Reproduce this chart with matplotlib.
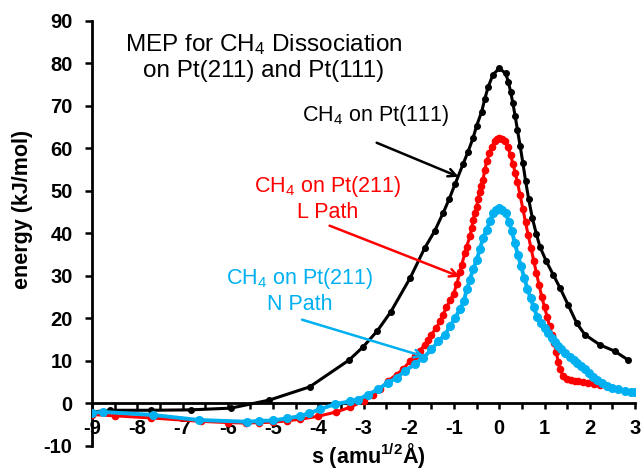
import matplotlib
matplotlib.use("Agg")
import matplotlib.pyplot as plt
from matplotlib.ticker import MultipleLocator

plt.rcParams['font.family'] = ['Liberation Sans', 'DejaVu Sans']
plt.rcParams['mathtext.fontset'] = 'custom'
plt.rcParams['mathtext.rm'] = 'Liberation Sans'
plt.rcParams['mathtext.it'] = 'Liberation Sans:italic'
plt.rcParams['mathtext.bf'] = 'Liberation Sans:bold'
plt.rcParams['axes.unicode_minus'] = False

# CH4 on Pt(111)
s_111 = [-9.0, -8.6, -7.69, -6.82, -5.93, -5.08, -4.19, -3.32, -3.01, -2.70, -2.40,
         -1.97, -1.65, -1.43, -1.24, -1.11, -0.98, -0.80, -0.69, -0.58, -0.50, -0.39,
         -0.32, -0.25, -0.14, 0.0, 0.14, 0.20, 0.25, 0.30, 0.35, 0.40, 0.46, 0.52,
         0.58, 0.65, 0.73, 0.82, 0.90, 1.04, 1.19, 1.34, 1.52, 1.71, 1.89, 2.22,
         2.55, 2.85]
e_111 = [-2.0, -1.6, -1.6, -1.5, -1.1, 0.8, 3.9, 10.2, 13.3, 17.0, 21.5,
         29.5, 36.5, 40.5, 44.8, 48.0, 51.5, 56.3, 59.2, 62.4, 65.3, 68.6,
         71.6, 74.3, 77.3, 78.8, 77.6, 75.6, 73.3, 70.6, 67.6, 64.4, 60.6, 56.6,
         52.4, 48.0, 43.6, 39.8, 36.8, 33.4, 30.3, 27.2, 23.2, 18.9, 16.2, 13.8,
         12.3, 10.2]

# CH4 on Pt(211), L path
s_211L = [-9.0, -8.5, -7.7, -6.6, -6.0, -5.6, -5.3, -5.0, -4.7, -4.4, -4.0, -3.6,
          -3.3, -3.0, -2.79, -2.64, -2.46, -2.27, -2.13, -1.98, -1.87, -1.76, -1.65,
          -1.57, -1.50, -1.39, -1.31, -1.24, -1.17, -1.08, -1.01, -0.94, -0.87,
          -0.83, -0.76, -0.72, -0.65, -0.61, -0.58, -0.54, -0.50, -0.47, -0.43,
          -0.40, -0.36, -0.32, -0.28, -0.22, -0.17, -0.10, -0.05, 0.0, 0.05, 0.12,
          0.19, 0.25, 0.30, 0.35, 0.40, 0.46, 0.52, 0.58, 0.64, 0.70, 0.76, 0.82,
          0.88, 0.94, 1.00, 1.06, 1.11, 1.16, 1.21, 1.26, 1.30, 1.34, 1.41, 1.49,
          1.58, 1.67, 1.75, 1.84, 1.97, 2.10, 2.23]
e_211L = [-2.6, -2.9, -3.4, -4.2, -4.5, -4.6, -4.5, -4.4, -4.1, -3.7, -3.0, -2.0,
          -0.9, 0.6, 1.9, 3.3, 5.3, 6.8, 8.0, 9.9, 11.1, 12.3, 13.8,
          15.0, 16.2, 17.8, 19.3, 20.9, 22.6, 24.3, 25.8, 28.0, 31.0,
          32.6, 35.4, 36.9, 39.3, 41.2, 43.2, 44.8, 46.3, 48.1, 49.8,
          51.2, 52.6, 54.9, 56.9, 58.8, 60.4, 61.6, 62.2, 62.4, 62.2, 61.6,
          60.2, 58.3, 56.4, 54.3, 52.0, 49.0, 45.8, 42.6, 39.5, 36.6, 33.6, 30.7,
          27.8, 25.0, 22.6, 20.3, 18.2, 16.2, 14.3, 12.0, 9.8, 8.0, 6.5, 5.7,
          5.4, 5.3, 5.2, 5.0, 4.8, 4.5, 4.3]

# CH4 on Pt(211), N path
s_211N = [-9.0, -8.76, -7.66, -6.63, -5.57, -5.30, -5.00, -4.69, -4.41, -4.20, -3.97,
          -3.64, -3.30, -3.12, -2.90, -2.68, -2.46, -2.27, -2.09, -1.87, -1.68,
          -1.50, -1.35, -1.20, -1.09, -0.98, -0.87, -0.78, -0.72, -0.65, -0.58,
          -0.50, -0.43, -0.36, -0.28, -0.21, -0.14, -0.07, 0.0, 0.07, 0.14, 0.21,
          0.28, 0.34, 0.41, 0.48, 0.55, 0.62, 0.69, 0.76, 0.84, 0.92, 1.00, 1.08,
          1.16, 1.23, 1.30, 1.37, 1.46, 1.56, 1.64, 1.71, 1.80, 1.89, 1.98, 2.07,
          2.17, 2.27, 2.38, 2.49, 2.63, 2.78, 2.90, 3.0]
e_211N = [-2.2, -2.0, -2.7, -3.9, -4.3, -4.1, -4.0, -3.5, -3.0, -2.3, -1.4,
          -0.2, 0.5, 0.9, 2.1, 3.3, 4.9, 6.0, 7.6, 9.2, 10.7,
          12.7, 14.6, 16.2, 18.1, 20.1, 22.1, 24.2, 26.8, 29.1, 31.5,
          33.8, 36.2, 38.9, 40.8, 42.8, 44.8, 45.6, 45.9, 45.6, 44.8, 42.7,
          40.5, 37.8, 35.0, 32.3, 29.6, 27.0, 24.8, 22.6, 20.4, 18.9, 17.7, 16.6,
          15.5, 14.5, 13.6, 12.7, 11.8, 11.0, 10.2, 9.5, 8.7, 8.0, 7.1, 6.3,
          5.5, 4.8, 4.2, 3.7, 3.3, 3.0, 2.8, 2.6]

cor_azul = '#00B0F0'
cor_vermelha = '#FF0000'

fig = plt.figure(figsize=(6.44, 4.74), dpi=100)
ax = fig.add_axes([0.1429, 0.0591, 0.8432, 0.8973])

ax.plot(s_111, e_111, '-o', color='black', lw=2.2, ms=4, zorder=3)
ax.plot(s_211L, e_211L, '-o', color=cor_vermelha, lw=2.2, ms=4.5, zorder=4)
ax.plot(s_211N, e_211N, '-o', color=cor_azul, lw=2.8, ms=5.5, zorder=5)

ax.set_xlim(-9, 3)
ax.set_ylim(-10, 90)

ax.spines['top'].set_visible(False)
ax.spines['right'].set_visible(False)
ax.spines['bottom'].set_position(('data', 0))
ax.spines['bottom'].set_linewidth(2)
ax.spines['left'].set_linewidth(2)

ax.xaxis.set_major_locator(MultipleLocator(1))
ax.xaxis.set_minor_locator(MultipleLocator(0.5))
ax.yaxis.set_major_locator(MultipleLocator(10))
ax.tick_params(axis='x', which='both', direction='out', length=4.5, width=1.8, pad=7,
               labelsize=14.5)
ax.tick_params(axis='y', direction='out', length=5, width=1.8, pad=9, labelsize=14.5)
for lbl in ax.get_xticklabels() + ax.get_yticklabels():
    lbl.set_fontweight('bold')

ax.set_ylabel('energy (kJ/mol)', fontsize=15.5, fontweight='bold')
ax.yaxis.set_label_coords(-0.109, 0.555)
ax.set_xlabel(r'$\mathbf{s\ (amu^{1/2}Å)}$', fontsize=15.5)
ax.xaxis.set_label_coords(0.508, 0.012)

ax.text(-5.2, 81.5, 'MEP for CH$_4$ Dissociation\non Pt(211) and Pt(111)',
        fontsize=17.5, ha='center', va='center', multialignment='center')

ax.text(-2.74, 67.6, 'CH$_4$ on Pt(111)', fontsize=15.5, ha='center', va='center')
ax.annotate('', xy=(-0.90, 53.3), xytext=(-2.71, 61.3),
            arrowprops=dict(arrowstyle='->', color='black', lw=1.8,
                            shrinkA=0, shrinkB=0, mutation_scale=14), zorder=6)

ax.text(-3.79, 48.2, 'CH$_4$ on Pt(211)\nL Path', fontsize=15.5, color=cor_vermelha,
        ha='center', va='center', multialignment='center')
ax.annotate('', xy=(-0.87, 29.8), xytext=(-3.75, 41.8),
            arrowprops=dict(arrowstyle='->', color=cor_vermelha, lw=1.8,
                            shrinkA=0, shrinkB=0, mutation_scale=14), zorder=6)

ax.text(-4.41, 26.5, 'CH$_4$ on Pt(211)\nN Path', fontsize=15.5, color=cor_azul,
        ha='center', va='center', multialignment='center')
ax.annotate('', xy=(-1.65, 11.0), xytext=(-4.36, 19.7),
            arrowprops=dict(arrowstyle='->', color=cor_azul, lw=1.8,
                            shrinkA=0, shrinkB=0, mutation_scale=14), zorder=6)

fig.savefig('out.png', dpi=100)
